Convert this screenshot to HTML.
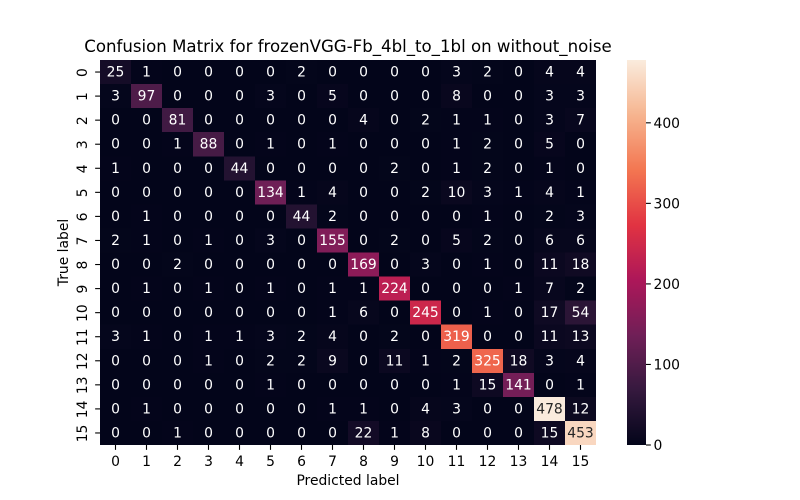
<!DOCTYPE html>
<html lang="en">
<head>
<meta charset="utf-8">
<title>Confusion Matrix</title>
<style>
html,body{margin:0;padding:0;background:#fff;width:800px;height:500px;overflow:hidden}
svg{display:block}
text{font-family:"DejaVu Sans","Liberation Sans",sans-serif;fill:#000}
</style>
</head>
<body>
<svg id="chart" xmlns="http://www.w3.org/2000/svg" width="800" height="500" viewBox="0 0 800 500">
  <rect x="0" y="0" width="800" height="500" fill="#fff"></rect>
  <text x="348" y="52" text-anchor="middle" font-size="16.6">Confusion Matrix for frozenVGG-Fb_4bl_to_1bl on without_noise</text>
  <text x="348" y="485" text-anchor="middle" font-size="13.89">Predicted label</text>
  <text transform="translate(68,252.5) rotate(-90)" text-anchor="middle" font-size="13.89">True label</text>
  <g id="cells"></g>
  <g id="annotations"></g>
  <g id="x-axis"></g>
  <g id="y-axis"></g>
  <g id="colorbar"></g>
</svg>
<script>
const categories = ["0","1","2","3","4","5","6","7","8","9","10","11","12","13","14","15"];
const row0  = [25,1,0,0,0,0,2,0,0,0,0,3,2,0,4,4];
const row1  = [3,97,0,0,0,3,0,5,0,0,0,8,0,0,3,3];
const row2  = [0,0,81,0,0,0,0,0,4,0,2,1,1,0,3,7];
const row3  = [0,0,1,88,0,1,0,1,0,0,0,1,2,0,5,0];
const row4  = [1,0,0,0,44,0,0,0,0,2,0,1,2,0,1,0];
const row5  = [0,0,0,0,0,134,1,4,0,0,2,10,3,1,4,1];
const row6  = [0,1,0,0,0,0,44,2,0,0,0,0,1,0,2,3];
const row7  = [2,1,0,1,0,3,0,155,0,2,0,5,2,0,6,6];
const row8  = [0,0,2,0,0,0,0,0,169,0,3,0,1,0,11,18];
const row9  = [0,1,0,1,0,1,0,1,1,224,0,0,0,1,7,2];
const row10 = [0,0,0,0,0,0,0,1,6,0,245,0,1,0,17,54];
const row11 = [3,1,0,1,1,3,2,4,0,2,0,319,0,0,11,13];
const row12 = [0,0,0,1,0,2,2,9,0,11,1,2,325,18,3,4];
const row13 = [0,0,0,0,0,1,0,0,0,0,0,1,15,141,0,1];
const row14 = [0,1,0,0,0,0,0,1,1,0,4,3,0,0,478,12];
const row15 = [0,0,1,0,0,0,0,0,22,1,8,0,0,0,15,453];
const matrix = [row0,row1,row2,row3,row4,row5,row6,row7,row8,row9,row10,row11,row12,row13,row14,row15];
const colorbarTicks = [0,100,200,300,400];

const NS = "http://www.w3.org/2000/svg";
const plot = {left:100, right:596, top:60, bottom:445};
const bar = {left:627, right:646, top:60, bottom:445};
const rocket = [[3,5,26],[53,25,62],[112,31,87],[173,23,89],[225,51,66],[243,118,81],[246,180,143],[250,235,221]];
const allValues = matrix.flat();
const vMin = Math.min(0, ...allValues);
const vMax = Math.max(...allValues);

function xScale(i){ return plot.left + (plot.right - plot.left) * i / categories.length; }
function yScale(i){ return plot.top + (plot.bottom - plot.top) * i / categories.length; }
function barScale(v){ return bar.bottom - (bar.bottom - bar.top) * (v - vMin) / (vMax - vMin); }
function colorOf(v){
  const t = Math.max(0, Math.min(1, (v - vMin) / (vMax - vMin))) * (rocket.length - 1);
  const k = Math.min(rocket.length - 2, Math.floor(t));
  const f = t - k;
  return rocket[k].map((c, n) => Math.round(c + (rocket[k + 1][n] - c) * f));
}
function luminance(rgb){
  const lin = rgb.map(c => { const s = c / 255; return s <= 0.03928 ? s / 12.92 : Math.pow((s + 0.055) / 1.055, 2.4); });
  return 0.2126 * lin[0] + 0.7152 * lin[1] + 0.0722 * lin[2];
}
function rgbText(rgb){ return "rgb(" + rgb.join(",") + ")"; }
function make(tag, parent, attrs){
  const el = document.createElementNS(NS, tag);
  for (const key in attrs) el.setAttribute(key, attrs[key]);
  parent.appendChild(el);
  return el;
}

const cellsGroup = document.getElementById("cells");
const annotationsGroup = document.getElementById("annotations");
const xAxisGroup = document.getElementById("x-axis");
const yAxisGroup = document.getElementById("y-axis");
const colorbarGroup = document.getElementById("colorbar");

matrix.forEach((row, r) => {
  row.forEach((value, c) => {
    const rgb = colorOf(value);
    const x0 = xScale(c), x1 = xScale(c + 1), y0 = yScale(r), y1 = yScale(r + 1);
    const cell = make("rect", cellsGroup, {x:x0, y:y0, width:x1 - x0, height:y1 - y0, fill:rgbText(rgb), "shape-rendering":"crispEdges"});
    
    
    const label = make("text", annotationsGroup, {x:(x0 + x1) / 2, y:(y0 + y1) / 2 + 4.5, "text-anchor":"middle", "font-size":"13.89"});
    label.style.fill = luminance(rgb) > 0.408 ? "#262626" : "#ffffff";
    label.textContent = String(value);
    
    
  });
});

categories.forEach((name, i) => {
  const cx = (xScale(i) + xScale(i + 1)) / 2;
  const xTick = make("line", xAxisGroup, {x1:cx, x2:cx, y1:plot.bottom, y2:plot.bottom + 4.86, stroke:"#000", "stroke-width":"1.1"});
  
  
  const xLabel = make("text", xAxisGroup, {x:cx, y:466, "text-anchor":"middle", "font-size":"13.89"});
  xLabel.textContent = name;
  
  

  const cy = (yScale(i) + yScale(i + 1)) / 2;
  const yTick = make("line", yAxisGroup, {x1:plot.left - 4.86, x2:plot.left, y1:cy, y2:cy, stroke:"#000", "stroke-width":"1.1"});
  
  
  const yLabel = make("text", yAxisGroup, {transform:"translate(87," + (cy + 0.5) + ") rotate(-90)", "text-anchor":"middle", "font-size":"13.89"});
  yLabel.textContent = name;
  
  
});

const ramp = document.createElementNS(NS, "g");


colorbarGroup.appendChild(ramp);
for (let py = bar.top; py < bar.bottom; py++) {
  const value = vMin + (bar.bottom - py - 0.5) / (bar.bottom - bar.top) * (vMax - vMin);
  make("rect", ramp, {x:bar.left, y:py, width:bar.right - bar.left, height:1, fill:rgbText(colorOf(value)), "shape-rendering":"crispEdges"});
}
colorbarTicks.forEach(value => {
  const y = barScale(value);
  const tick = make("line", colorbarGroup, {x1:bar.right, x2:bar.right + 4.86, y1:y, y2:y, stroke:"#000", "stroke-width":"1.1"});
  
  
  const label = make("text", colorbarGroup, {x:653.5, y:y + 5, "font-size":"13.89"});
  label.textContent = String(value);
  
  
});
</script>
</body>
</html>
